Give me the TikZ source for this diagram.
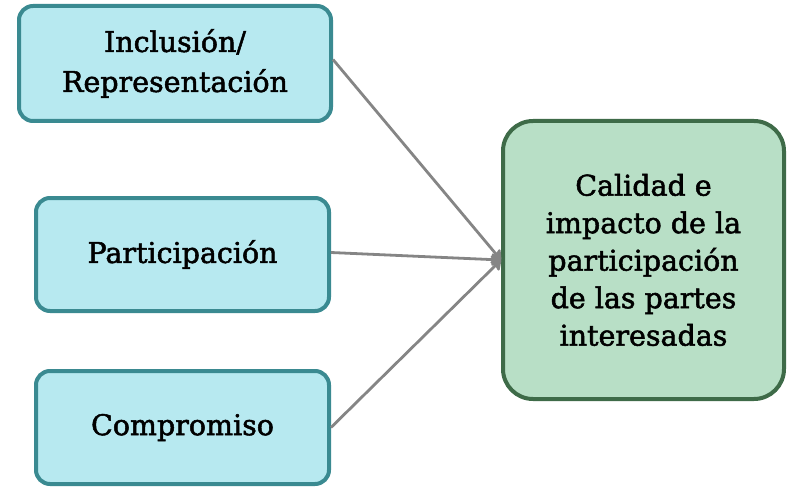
\documentclass[tikz,border=0pt]{standalone}
\usepackage{fontspec}
\setmainfont{DejaVu Serif}
\newfontfamily\boxfont[FakeBold=1.8]{DejaVu Serif}
\usetikzlibrary{arrows.meta}
\definecolor{bluefill}{HTML}{B7E9F0}
\definecolor{blueline}{HTML}{3A8A91}
\definecolor{greenfill}{HTML}{B8DFC6}
\definecolor{greenline}{HTML}{3E6B48}
\definecolor{conn}{HTML}{858585}
\begin{document}
\begin{tikzpicture}[x=1pt,y=-1pt,
  srcbox/.style={draw=blueline, fill=bluefill, line width=4pt, rounded corners=14pt, align=center, inner sep=0pt, font=\boxfont\fontsize{28.5}{40}\selectfont},
  tgtbox/.style={draw=greenline, fill=greenfill, line width=4pt, rounded corners=30pt, align=center, inner sep=0pt, font=\boxfont\fontsize{28.5}{37.5}\selectfont, minimum width=281pt, minimum height=278pt},
  conline/.style={draw=conn, line width=2.8pt, -{Stealth[round, length=11pt, width=15pt, inset=2pt]}}]
\useasboundingbox (0,0) rectangle (788,487);
\node[srcbox, minimum width=312pt, minimum height=115pt] (inc) at (175,63.5) {Inclusión/\\Representación};
\node[srcbox, minimum width=293pt, minimum height=113pt] (par) at (182.5,254.5) {Participación};
\node[srcbox, minimum width=293pt, minimum height=113pt] (com) at (182.5,427.5) {Compromiso};
\node[tgtbox] (cal) at (643.5,260) {Calidad e\\impacto de la\\participación\\de las partes\\interesadas};
\coordinate (s1) at ([yshift=4pt]inc.east);
\draw[conline] (s1) -- (cal.west);
\draw[conline] ([yshift=2pt]par.east) -- (cal.west);
\draw[conline] (com.east) -- (cal.west);
\end{tikzpicture}
\end{document}
